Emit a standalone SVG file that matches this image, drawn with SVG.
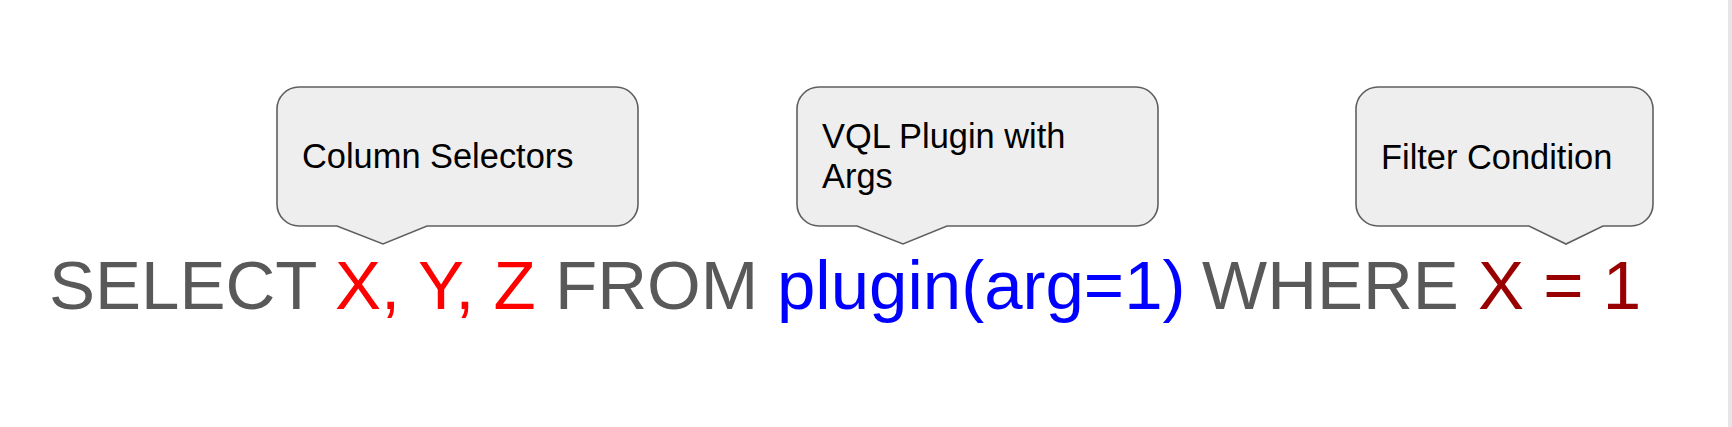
<svg xmlns="http://www.w3.org/2000/svg" width="1732" height="427" viewBox="0 0 1732 427">
<style>
.bubble{fill:#eeeeee;stroke:#5f5f5f;stroke-width:1.6;stroke-linejoin:miter}
.lbl{font-family:"Liberation Sans",Arial,sans-serif;font-size:34.4px;fill:#000000}
.q{font-family:"Liberation Sans",Arial,sans-serif;font-size:69px}
.gray{fill:#595959}.red{fill:#ff0000}.blue{fill:#0000ff}.dred{fill:#990000}
</style>
<rect x="0" y="0" width="1732" height="427" fill="#ffffff"/>
<rect x="1728" y="0" width="4" height="427" fill="#e6e6e6"/>
<g id="connectors"/>
<g id="node-columns">
<path class="bubble" d="M299,87 H616 A22,22 0 0 1 638,109 V204 A22,22 0 0 1 616,226 H427 L383,244 L337,226 H299 A22,22 0 0 1 277,204 V109 A22,22 0 0 1 299,87 Z"/>
<text class="lbl" x="302" y="168">Column Selectors</text>
</g>
<g id="node-plugin">
<path class="bubble" d="M819,87 H1136 A22,22 0 0 1 1158,109 V204 A22,22 0 0 1 1136,226 H947 L903,244 L857,226 H819 A22,22 0 0 1 797,204 V109 A22,22 0 0 1 819,87 Z"/>
<text class="lbl" x="822" y="148">VQL Plugin with</text>
<text class="lbl" x="822" y="188">Args</text>
</g>
<g id="node-filter">
<path class="bubble" d="M1378,87 H1631 A22,22 0 0 1 1653,109 V204 A22,22 0 0 1 1631,226 H1603 L1566,244 L1529,226 H1378 A22,22 0 0 1 1356,204 V109 A22,22 0 0 1 1378,87 Z"/>
<text class="lbl" x="1381" y="169">Filter Condition</text>
</g>
<g id="query">
<text class="q" y="309"><tspan class="gray" x="49">SELECT</tspan><tspan class="red" x="335">X, Y, Z</tspan><tspan class="gray" x="555">FROM</tspan><tspan class="blue" x="777">plugin(arg=1)</tspan><tspan class="gray" x="1202">WHERE</tspan><tspan class="dred" x="1478">X = 1</tspan></text>
</g>
</svg>
